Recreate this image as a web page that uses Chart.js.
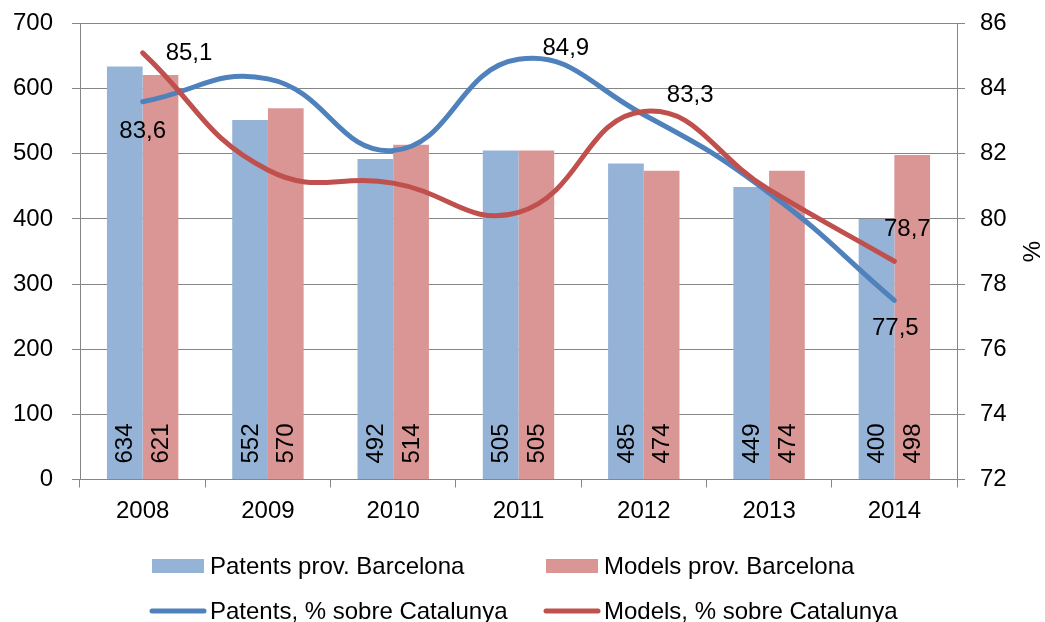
<!DOCTYPE html>
<html>
<head>
<meta charset="utf-8">
<script src="https://cdn.jsdelivr.net/npm/chart.js@4.4.1/dist/chart.umd.min.js"></script>
<style>
  html, body { margin: 0; padding: 0; background: #fff; }
  #wrap { position: relative; width: 1045px; height: 622px; }
</style>
</head>
<body>
<div id="wrap"><canvas id="grafic"></canvas></div>
<script>
// Dades
const anys = ["2008", "2009", "2010", "2011", "2012", "2013", "2014"];
const patentsBcn = [634, 552, 492, 505, 485, 449, 400];
const modelsBcn = [621, 570, 514, 505, 474, 474, 498];
const patentsPct = [83.6, 84.3, 82.1, 84.9, 83.2, 80.8, 77.5];
const modelsPct = [85.1, 81.5, 81.1, 80.2, 83.3, 80.9, 78.7];

const FONT = '"Liberation Sans", Arial, sans-serif';
const FSIZE = 24;
const colors = {
  barBlue: "#95B3D7",
  barRed: "#D99694",
  lineBlue: "#4F81BD",
  lineRed: "#C0504D",
  grid: "#868686",
};

// etiquetes de les línies que es veuen al gràfic (index i desplaçament)
const lineLabels = {
  2: [ { i: 0, dx: 0, dy: 30, align: "center" },
       { i: 3, dx: 24, dy: -11, align: "left" },
       { i: 6, dx: 1, dy: 28, align: "center" } ],
  3: [ { i: 0, dx: 23, dy: 1, align: "left" },
       { i: 4, dx: 23, dy: -16, align: "left" },
       { i: 6, dx: 13, dy: -32, align: "center" } ],
};

const etiquetes = {
  id: "etiquetes",
  afterDatasetsDraw(chart) {
    const ctx = chart.ctx;
    const base = chart.scales.y.bottom;
    ctx.save();
    ctx.fillStyle = "#000";
    ctx.font = FSIZE + "px " + FONT;
    // valors de les barres, girats
    [0, 1].forEach((d) => {
      const meta = chart.getDatasetMeta(d);
      meta.data.forEach((el, i) => {
        ctx.save();
        ctx.translate(el.x, base - 16);
        ctx.rotate(-Math.PI / 2);
        ctx.textAlign = "left";
        ctx.textBaseline = "middle";
        ctx.fillText(chart.data.datasets[d].data[i], 0, 1);
        ctx.restore();
      });
    });
    // valors de les línies
    Object.keys(lineLabels).forEach((d) => {
      const meta = chart.getDatasetMeta(+d);
      lineLabels[d].forEach((l) => {
        const el = meta.data[l.i];
        const v = chart.data.datasets[d].data[l.i];
        ctx.textAlign = l.align;
        ctx.textBaseline = "middle";
        ctx.fillText(v.toFixed(1).replace(".", ","), el.x + l.dx, el.y + l.dy);
      });
    });
    ctx.restore();
  },
  afterDraw(chart) {
    const ctx = chart.ctx;
    ctx.save();
    ctx.fillStyle = "#000";
    ctx.font = FSIZE + "px " + FONT;
    // títol eix dret
    ctx.save();
    ctx.translate(1033, (chart.chartArea.top + chart.chartArea.bottom) / 2);
    ctx.rotate(-Math.PI / 2);
    ctx.textAlign = "center";
    ctx.textBaseline = "middle";
    ctx.fillText("%", 0, 0);
    ctx.restore();
    // llegenda
    const ds = chart.data.datasets;
    const items = [
      { d: 0, x: 152, y: 566 },
      { d: 1, x: 546, y: 566 },
      { d: 2, x: 152, y: 611 },
      { d: 3, x: 546, y: 611 },
    ];
    items.forEach((it) => {
      const set = ds[it.d];
      if (set.type === "line") {
        ctx.strokeStyle = set.borderColor;
        ctx.lineWidth = 5;
        ctx.lineCap = "round";
        ctx.beginPath();
        ctx.moveTo(it.x, it.y);
        ctx.lineTo(it.x + 52, it.y);
        ctx.stroke();
      } else {
        ctx.fillStyle = set.backgroundColor;
        ctx.fillRect(it.x, it.y - 7, 52, 14);
      }
      ctx.fillStyle = "#000";
      ctx.textAlign = "left";
      ctx.textBaseline = "middle";
      ctx.fillText(set.label, it.x + 58, it.y + 1);
    });
    ctx.restore();
  },
};

const tickFont = { family: FONT, size: FSIZE };
// sense marge extra per les etiquetes extremes
function fixY(width) {
  return (scale) => {
    scale.width = width;
    scale.paddingTop = 0;
    scale.paddingBottom = 0;
  };
}

const ctxGrafic = document.getElementById("grafic").getContext("2d");
new Chart(ctxGrafic, {
  data: {
    labels: anys,
    datasets: [
      {
        type: "bar",
        label: "Patents prov. Barcelona",
        data: patentsBcn,
        backgroundColor: colors.barBlue,
        yAxisID: "y",
        order: 2,
        categoryPercentage: 0.57,
        barPercentage: 1.0,
      },
      {
        type: "bar",
        label: "Models prov. Barcelona",
        data: modelsBcn,
        backgroundColor: colors.barRed,
        yAxisID: "y",
        order: 2,
        categoryPercentage: 0.57,
        barPercentage: 1.0,
      },
      {
        type: "line",
        label: "Patents, % sobre Catalunya",
        data: patentsPct,
        borderColor: colors.lineBlue,
        borderWidth: 5,
        pointRadius: 0,
        tension: 0.45,
        borderCapStyle: "round",
        yAxisID: "y1",
        order: 1,
      },
      {
        type: "line",
        label: "Models, % sobre Catalunya",
        data: modelsPct,
        borderColor: colors.lineRed,
        borderWidth: 5,
        pointRadius: 0,
        tension: 0.45,
        borderCapStyle: "round",
        yAxisID: "y1",
        order: 0,
      },
    ],
  },
  options: {
    responsive: true,
    maintainAspectRatio: false,
    animation: false,
    layout: { padding: { left: 0, right: 0, top: 23.5, bottom: 0 } },
    plugins: {
      legend: { display: false },
      tooltip: { enabled: false },
    },
    scales: {
      x: {
        grid: {
          offset: true,
          drawOnChartArea: false,
          drawTicks: true,
          tickLength: 8,
          color: colors.grid,
        },
        border: { color: colors.grid },
        ticks: { color: "#000", font: tickFont, padding: 9 },
        afterFit(scale) {
          scale.height = 142.5;
          scale.paddingLeft = 0;
          scale.paddingRight = 0;
        },
      },
      y: {
        position: "left",
        min: 0,
        max: 700,
        ticks: { stepSize: 100, color: "#000", font: tickFont, padding: 19 },
        grid: { color: colors.grid, tickLength: 8 },
        border: { color: colors.grid },
        afterFit: fixY(80),
      },
      y1: {
        position: "right",
        min: 72,
        max: 86,
        ticks: { stepSize: 2, color: "#000", font: tickFont, padding: 15 },
        grid: { drawOnChartArea: false, color: colors.grid, tickLength: 8 },
        border: { color: colors.grid },
        afterFit: fixY(88),
      },
    },
  },
  plugins: [etiquetes],
});
</script>
</body>
</html>
